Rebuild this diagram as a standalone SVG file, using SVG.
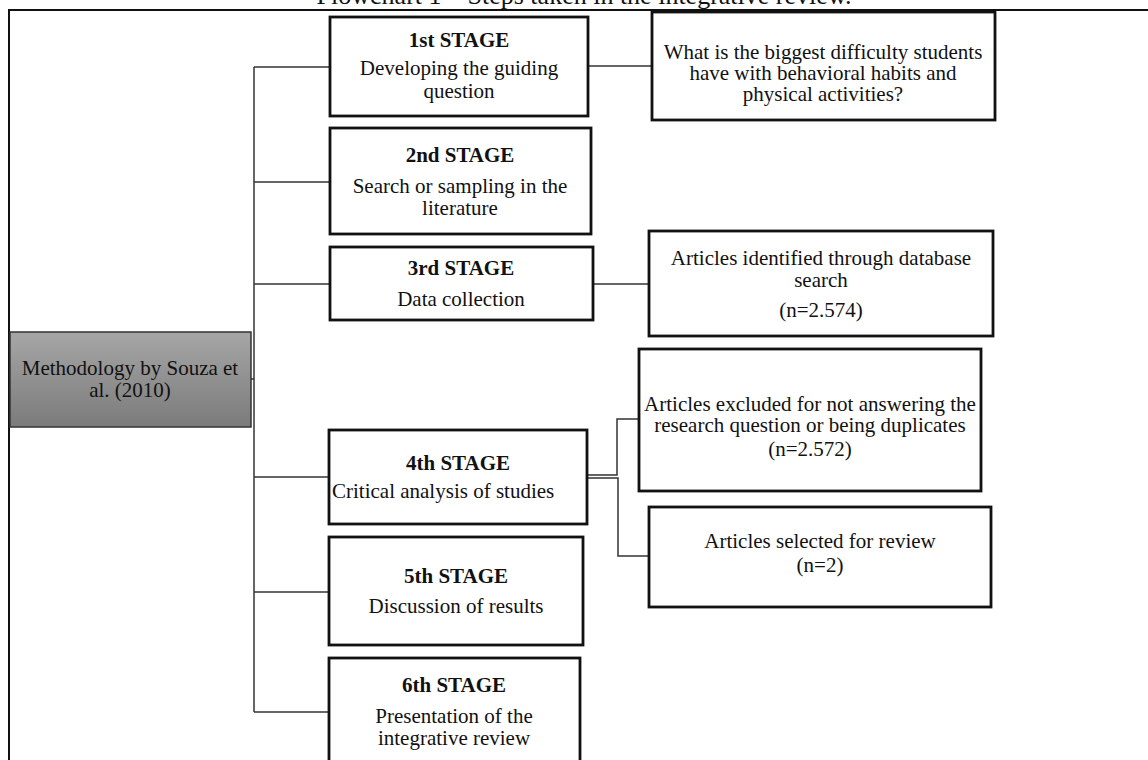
<svg xmlns="http://www.w3.org/2000/svg" width="1148" height="760" viewBox="0 0 1148 760">
<defs>
<linearGradient id="grayGrad" x1="0" y1="0" x2="0" y2="1">
<stop offset="0" stop-color="#a6a6a6"/>
<stop offset="1" stop-color="#7b7b7b"/>
</linearGradient>
<style>
text{font-family:"Liberation Serif","Times New Roman",serif;font-size:21px;fill:#111;text-anchor:middle}
.title{font-size:26px}
.b{font-weight:bold}
.box{fill:#fff;stroke:#111;stroke-width:2.8}
.conn{fill:none;stroke:#333;stroke-width:1.5}
</style>
</defs>
<rect width="1148" height="760" fill="#fff"/>
<text class="title" x="584" y="4">Flowchart 1 – Steps taken in the integrative review.</text>
<rect x="9" y="10" width="1160" height="770" fill="none" stroke="#111" stroke-width="2"/>
<g id="connectors">
<path class="conn" d="M254,67 V712"/>
<path class="conn" d="M254,67 H330"/>
<path class="conn" d="M254,182 H330"/>
<path class="conn" d="M254,284 H330"/>
<path class="conn" d="M251,379 H254"/>
<path class="conn" d="M254,477 H329"/>
<path class="conn" d="M254,592 H329"/>
<path class="conn" d="M254,712 H329"/>
<path class="conn" d="M588,66 H652"/>
<path class="conn" d="M593,284 H649"/>
<path class="conn" d="M587,475 H617 V419 H639"/>
<path class="conn" d="M587,478 H618 V556 H649"/>
</g>
<g id="method">
<rect x="10" y="332" width="241" height="95" fill="url(#grayGrad)" stroke="#333" stroke-width="1.5"/>
<text x="130" y="375">Methodology by Souza et</text>
<text x="130" y="397">al. (2010)</text>
</g>
<g id="stage1">
<rect class="box" x="330" y="17" width="258" height="99"/>
<text class="b" x="459" y="47">1st STAGE</text>
<text x="459" y="75">Developing the guiding</text>
<text x="459" y="98">question</text>
</g>
<g id="question">
<rect class="box" x="652" y="12" width="343" height="108"/>
<text x="823" y="59">What is the biggest difficulty students</text>
<text x="823" y="80">have with behavioral habits and</text>
<text x="823" y="101">physical activities?</text>
</g>
<g id="stage2">
<rect class="box" x="330" y="128" width="261" height="106"/>
<text class="b" x="460" y="162">2nd STAGE</text>
<text x="460" y="193">Search or sampling in the</text>
<text x="460" y="215">literature</text>
</g>
<g id="stage3">
<rect class="box" x="330" y="247" width="263" height="73"/>
<text class="b" x="461" y="275">3rd STAGE</text>
<text x="461" y="306">Data collection</text>
</g>
<g id="identified">
<rect class="box" x="649" y="231" width="344" height="105"/>
<text x="821" y="265">Articles identified through database</text>
<text x="821" y="287">search</text>
<text x="821" y="317">(n=2.574)</text>
</g>
<g id="stage4">
<rect class="box" x="329" y="430" width="258" height="94"/>
<text class="b" x="458" y="470">4th STAGE</text>
<text x="332" y="498" style="text-anchor:start">Critical analysis of studies</text>
</g>
<g id="excluded">
<rect class="box" x="639" y="349" width="342" height="142"/>
<text x="810" y="411">Articles excluded for not answering the</text>
<text x="810" y="432">research question or being duplicates</text>
<text x="810" y="456">(n=2.572)</text>
</g>
<g id="selected">
<rect class="box" x="649" y="507" width="342" height="100"/>
<text x="820" y="548">Articles selected for review</text>
<text x="820" y="572">(n=2)</text>
</g>
<g id="stage5">
<rect class="box" x="329" y="537" width="254" height="108"/>
<text class="b" x="456" y="583">5th STAGE</text>
<text x="456" y="613">Discussion of results</text>
</g>
<g id="stage6">
<rect class="box" x="329" y="658" width="251" height="120"/>
<text class="b" x="454" y="692">6th STAGE</text>
<text x="454" y="745">integrative review</text>
<text x="454" y="723">Presentation of the</text>
</g>
</svg>
